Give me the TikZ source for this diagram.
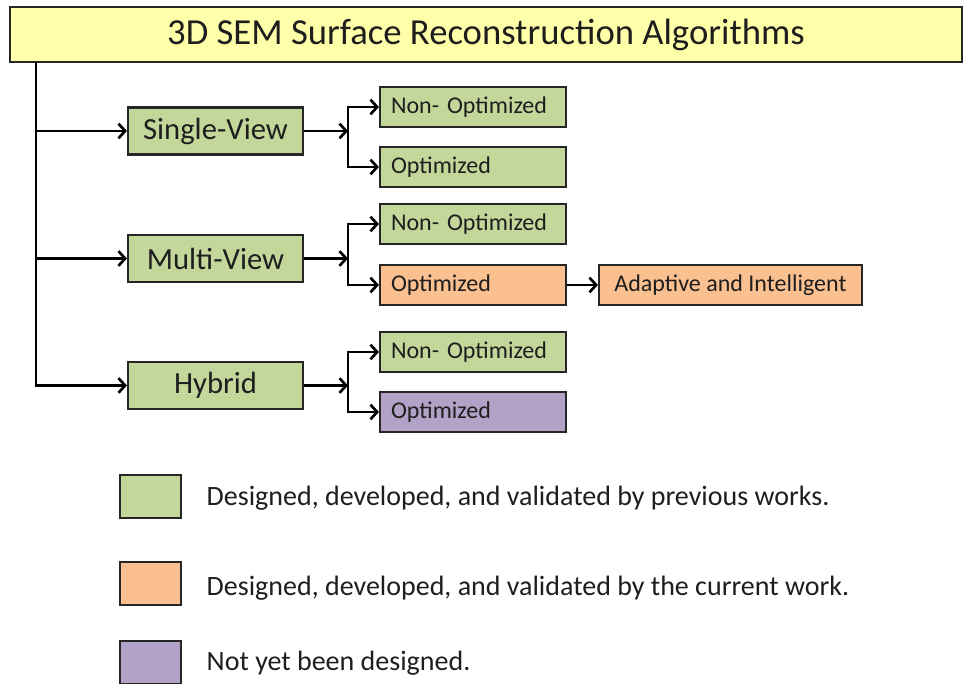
\documentclass[tikz,border=0pt]{standalone}
\usepackage{fontspec}
\setmainfont{Carlito}
\usepackage{xcolor}
\usetikzlibrary{arrows.meta,positioning}
\definecolor{titleyellow}{RGB}{255,255,170}
\definecolor{prevgreen}{RGB}{196,215,155}
\definecolor{curorange}{RGB}{250,192,144}
\definecolor{todopurple}{RGB}{179,162,199}
\definecolor{inkgray}{RGB}{30,30,30}
\tikzset{
  box/.style={draw=black!85,line width=1.6pt,text=inkgray,inner sep=0pt},
  mainbox/.style={box,fill=prevgreen,minimum width=131.25pt,minimum height=35.25pt,font=\fontsize{23}{27}\selectfont},
  subbox/.style={box,minimum height=30pt,text width=123pt,inner xsep=8.25pt,align=left,font=\fontsize{18}{21}\selectfont},
  keybox/.style={box,minimum width=45.75pt,minimum height=32.25pt},
  keytext/.style={anchor=west,text=inkgray,font=\fontsize{21}{25}\selectfont},
  arr/.style={line width=2pt,-{Straight Barb[length=5pt,width=11pt,line width=2pt]}},
  link/.style={line width=2pt}
}
\begin{document}
\begin{tikzpicture}[x=0.75pt,y=-0.75pt]
\useasboundingbox (0,0) rectangle (963,684);
% title
\node[box,fill=titleyellow,minimum width=714pt,minimum height=41.25pt,font=\fontsize{27.5}{32}\selectfont] (title) at (486,34.5) {3D SEM Surface Reconstruction Algorithms};
% main branches
\node[mainbox] (sv) at (215.5,131) {Single-View};
\node[mainbox] (mv) at (215.5,258.5) {Multi-View};
\node[mainbox] (hy) at (215.5,385.5) {Hybrid};
\coordinate (t0) at (36,62);
\draw[arr] (t0) |- (hy.west);
\draw[arr] (t0 |- sv.west) -- (sv.west);
\draw[arr] (t0 |- mv.west) -- (mv.west);
% sub branches
\node[subbox,fill=prevgreen] (svn) at (473,107) {Non- Optimized};
\node[subbox,fill=prevgreen] (svo) at (473,167) {Optimized};
\node[subbox,fill=prevgreen] (mvn) at (473,224) {Non- Optimized};
\node[subbox,fill=curorange] (mvo) at (473,285) {Optimized};
\node[subbox,fill=prevgreen] (hyn) at (473,352) {Non- Optimized};
\node[subbox,fill=todopurple] (hyo) at (473,412) {Optimized};
\node[box,fill=curorange,minimum width=197.25pt,minimum height=30pt,font=\fontsize{18}{21}\selectfont] (ai) at (730.5,285) {Adaptive and Intelligent};
\coordinate (f0) at (348,0);
\draw[arr] (sv.east) -- (sv.east -| f0);
\draw[arr] (sv.east -| f0) |- (svn.west);
\draw[arr] (sv.east -| f0) |- (svo.west);
\draw[arr] (mv.east) -- (mv.east -| f0);
\draw[arr] (mv.east -| f0) |- (mvn.west);
\draw[arr] (mv.east -| f0) |- (mvo.west);
\draw[arr] (hy.east) -- (hy.east -| f0);
\draw[arr] (hy.east -| f0) |- (hyn.west);
\draw[arr] (hy.east -| f0) |- (hyo.west);
\draw[arr] (mvo.east) -- (ai.west);
% legend
\node[keybox,fill=prevgreen] (k1) at (150.5,496.5) {};
\node[keybox,fill=curorange] (k2) at (150.5,583.5) {};
\node[keybox,fill=todopurple] (k3) at (150.5,662.5) {};
\node[keytext] (l1) at (202,498) {Designed, developed, and validated by previous works.};
\node[keytext] (l2) at (202,588) {Designed, developed, and validated by the current work.};
\node[keytext] (l3) at (202,663) {Not yet been designed.};
\end{tikzpicture}
\end{document}
